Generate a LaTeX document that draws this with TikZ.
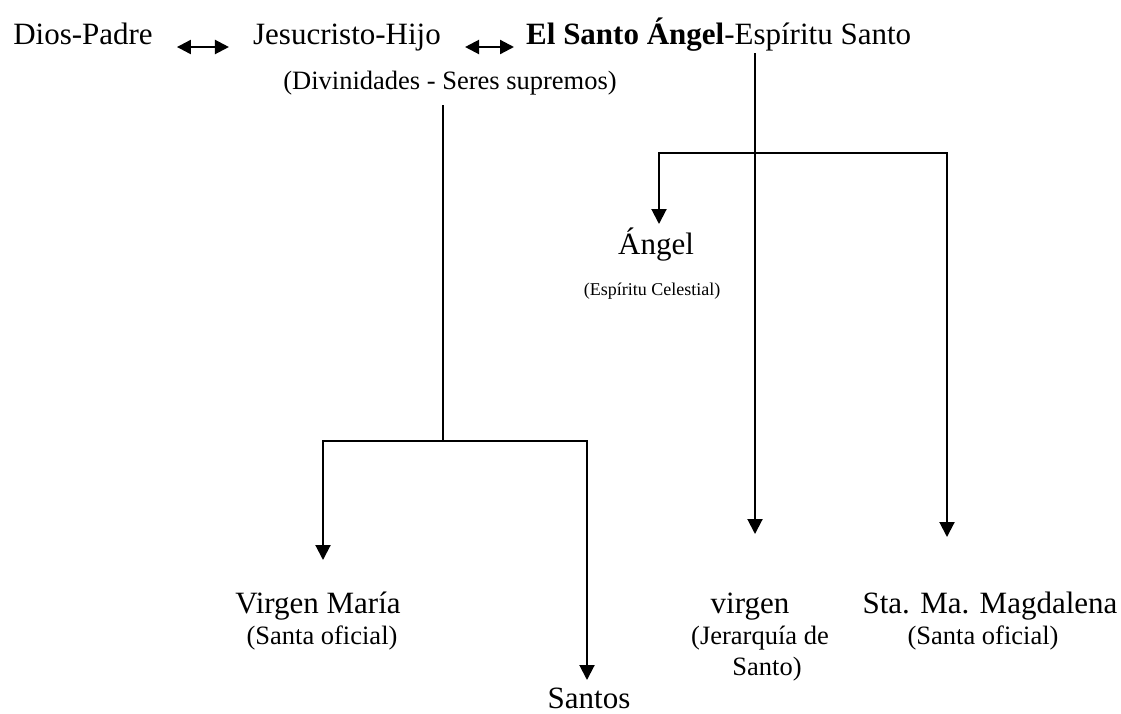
\documentclass[tikz,border=0pt]{standalone}
\usepackage{fontspec}
\setmainfont{Liberation Serif}
\usetikzlibrary{arrows.meta}
\tikzset{
  big/.style={font=\fontsize{31}{36}\selectfont, inner sep=0pt, anchor=base},
  mid/.style={font=\fontsize{26.5}{31}\selectfont, inner sep=0pt, anchor=base},
  tiny/.style={font=\fontsize{18}{21}\selectfont, inner sep=0pt, anchor=base},
  conn/.style={line width=2pt, line join=miter, -{Triangle[length=15pt,width=15pt]}},
  plain/.style={line width=2pt, line join=miter},
  dbl/.style={line width=2.2pt, {Triangle[length=14pt,width=14pt]}-{Triangle[length=14pt,width=14pt]}}
}
\begin{document}
\begin{tikzpicture}[x=1pt,y=-1pt]
\useasboundingbox (0,0) rectangle (1121,713);
% top row
\node[big] (dios) at (83,44) {Dios-Padre};
\node[big] (jes) at (347,44) {Jesucristo-Hijo};
\node[big, anchor=base west] (esp) at (526,44) {\textbf{El Santo Ángel}-Espíritu Santo};
\node[mid] (div) at (450,89) {(Divinidades - Seres supremos)};
\draw[dbl, shorten <=24pt, shorten >=24pt] ([yshift=-3pt]dios.base east) -- ([yshift=-3pt]jes.base west);
\draw[dbl, shorten <=24pt, shorten >=12pt] ([yshift=-3pt]jes.base east) -- ([yshift=-3pt]esp.base west);
% lower labels
\node[big] (angel) at (656,254) {Ángel};
\node[tiny] (angelsub) at (652,295) {(Espíritu Celestial)};
\node[big] (vm) at (318,613) {Virgen María};
\node[mid] (vmsub) at (322,644) {(Santa oficial)};
\node[big] (santos) at (589,708) {Santos};
\node[big] (virgen) at (750,613) {virgen};
\node[mid] (virgensub1) at (760,644) {(Jerarquía de};
\node[mid] (virgensub2) at (767,675) {Santo)};
\node[big] (mag) at (990,613) {Sta. Ma. Magdalena};
\node[mid] (magsub) at (983,644) {(Santa oficial)};
% junction coordinates
\coordinate (divbot) at (443,105);
\coordinate (j1) at (443,441);
\coordinate (vmtip) at (323,560);
\coordinate (santostip) at (587,680);
\coordinate (esptop) at (755,53);
\coordinate (j2) at (755,153);
\coordinate (angeltip) at (659,224);
\coordinate (virgentip) at (755,534);
\coordinate (magtip) at (947,537);
% left tree
\draw[plain] (divbot) -- (j1);
\draw[conn] (j1) -| (vmtip);
\draw[conn] (j1) -| (santostip);
% right tree
\draw[conn] (esptop) -- (virgentip);
\draw[conn] (j2) -| (angeltip);
\draw[conn] (j2) -| (magtip);
\end{tikzpicture}
\end{document}
